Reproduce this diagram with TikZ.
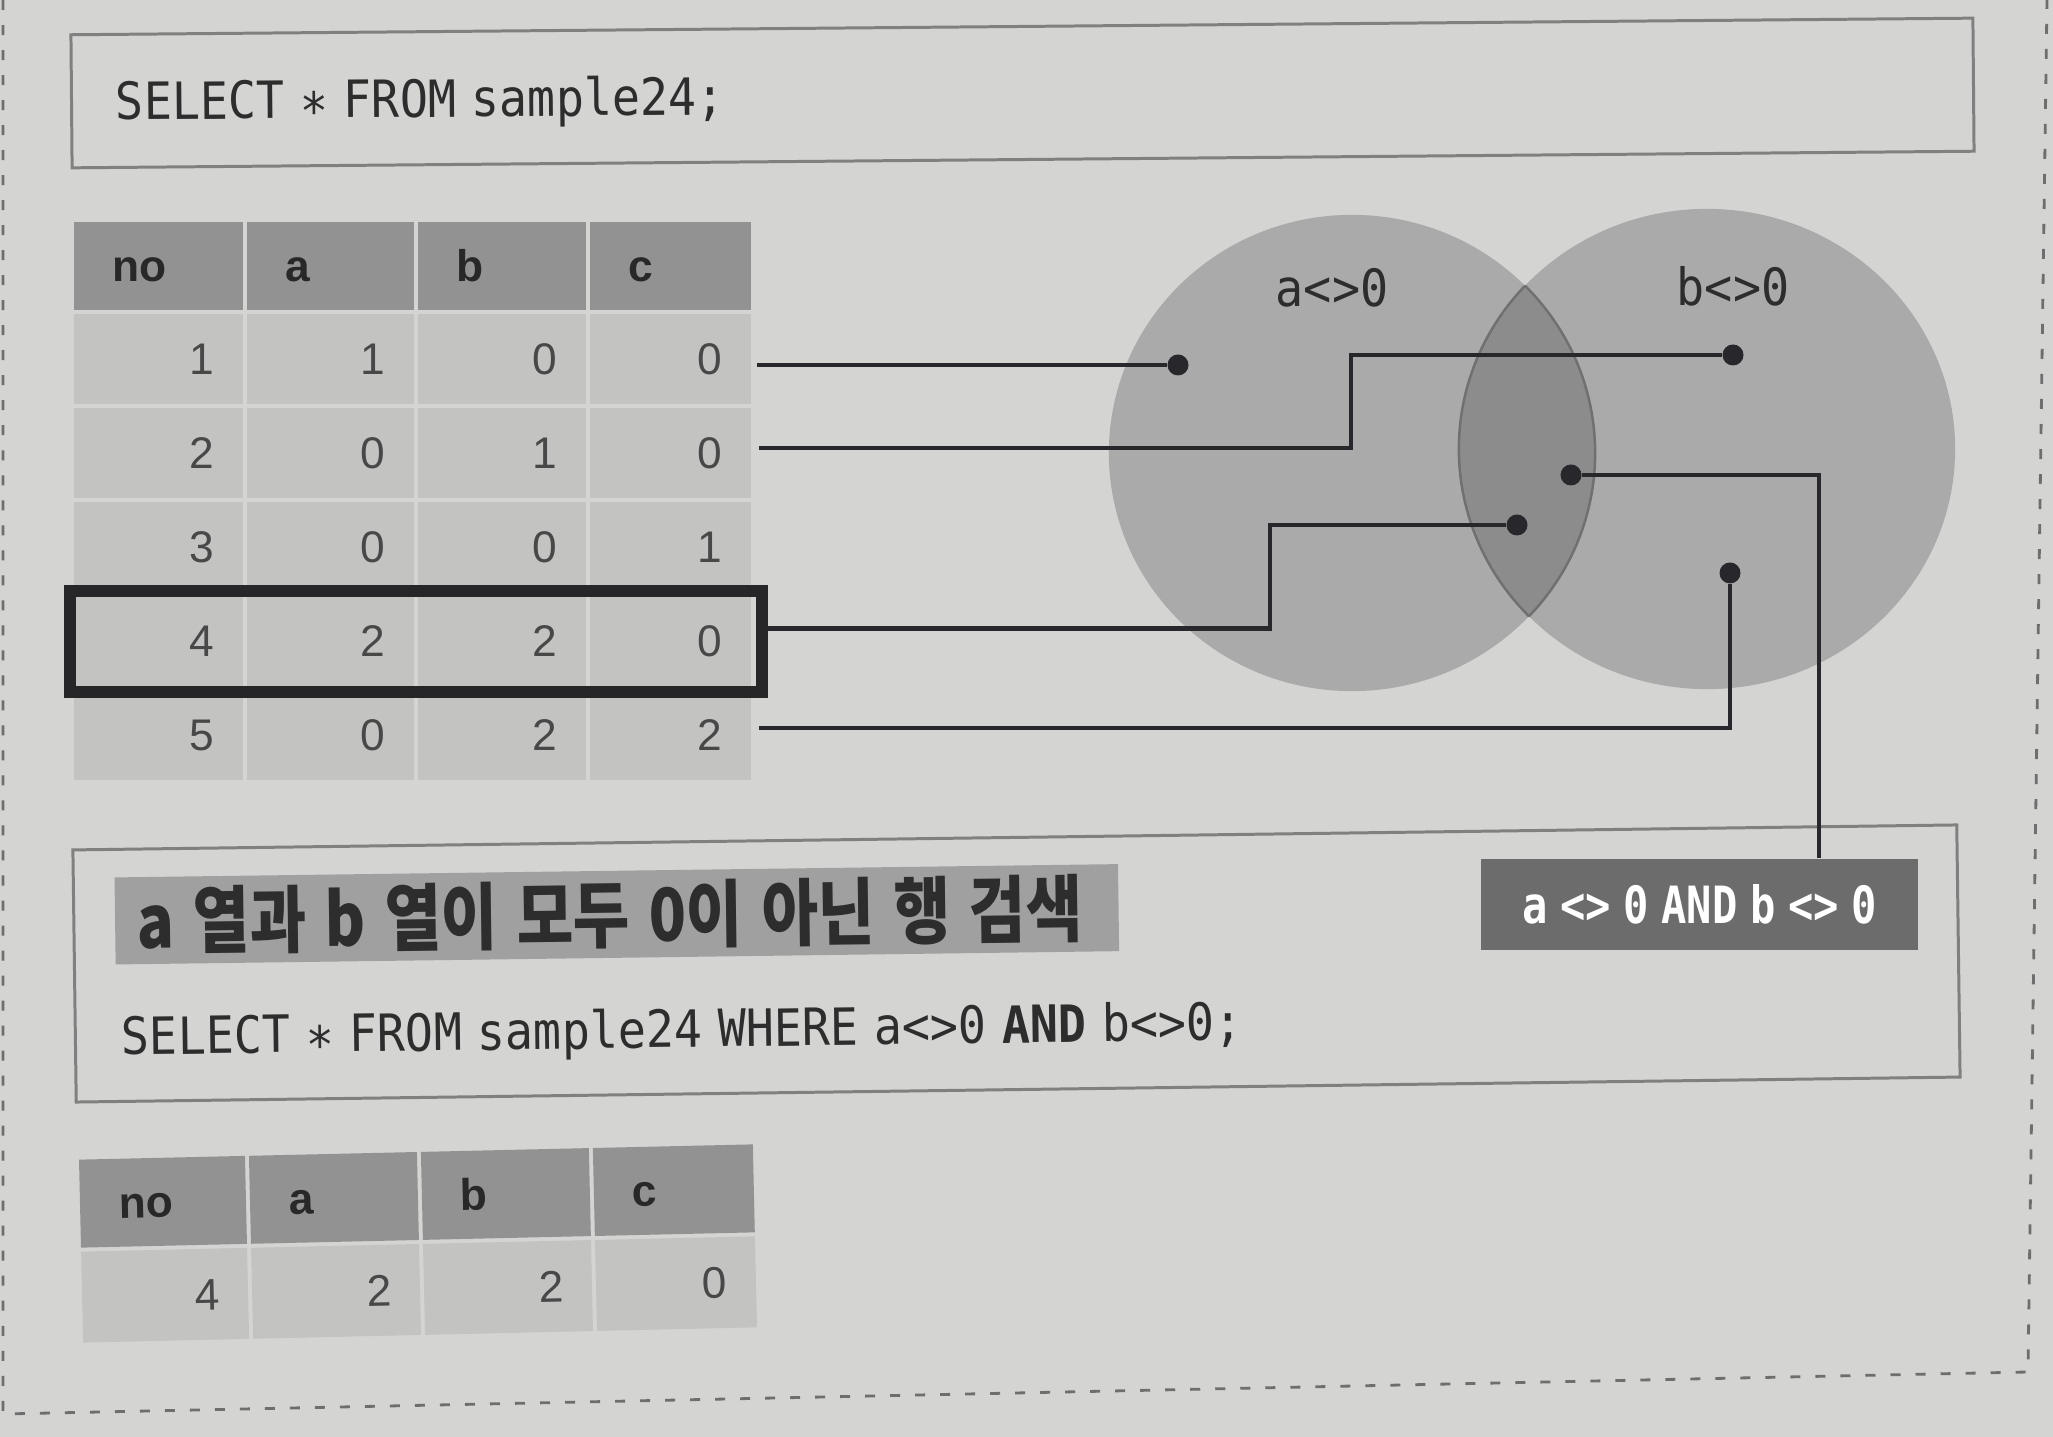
\documentclass[tikz,border=0pt]{standalone}
\usepackage{fontspec}
\usetikzlibrary{calc}
\setmainfont{Liberation Sans}
\newfontfamily\codefont{DejaVu Sans Mono}[FakeStretch=0.91,WordSpace=0.55]
\newfontfamily\labfont{DejaVu Sans Mono}[FakeStretch=0.82,WordSpace=0.5]
\newfontfamily\kofont{Noto Sans CJK KR}[FakeStretch=0.84,WordSpace=1.35]
\newfontfamily\tabfont{Liberation Sans}
\newcommand\midstar{\raisebox{-0.22em}{*}}

\definecolor{bgc}{RGB}{212,212,210}
\definecolor{boxln}{RGB}{128,128,128}
\definecolor{hdr}{RGB}{146,146,146}
\definecolor{cellc}{RGB}{195,195,194}
\definecolor{circ}{RGB}{170,170,170}
\definecolor{lensc}{RGB}{140,140,140}
\definecolor{lensl}{RGB}{112,112,112}
\definecolor{ink}{RGB}{40,40,44}
\definecolor{barc}{RGB}{160,160,160}
\definecolor{labc}{RGB}{108,108,108}
\definecolor{txt}{RGB}{45,45,45}
\definecolor{htxt}{RGB}{40,40,40}
\definecolor{dtxt}{RGB}{72,72,72}
\definecolor{selc}{RGB}{38,38,40}
\definecolor{dashc}{RGB}{110,110,110}

\tikzset{
  boxline/.style={draw=boxln, line width=0.85pt, inner sep=0pt},
  hdrcell/.style={fill=hdr, inner sep=0pt, outer sep=0pt},
  bodycell/.style={fill=cellc, inner sep=0pt, outer sep=0pt},
  hdrtext/.style={inner sep=0pt, font=\tabfont\bfseries\fontsize{12.6pt}{14pt}\selectfont, text=htxt, text height=9pt, text depth=0pt},
  digtext/.style={inner sep=0pt, font=\tabfont\fontsize{12.6pt}{14pt}\selectfont, text=dtxt, text height=9pt, text depth=0pt},
  codetext/.style={inner sep=0pt, font=\codefont\fontsize{14.6pt}{17pt}\selectfont, text=txt},
  kotext/.style={inner sep=0pt, font=\kofont\bfseries\fontsize{20.8pt}{24pt}\selectfont, text=txt},
  conn/.style={draw=ink, line width=1.2pt},
  dotn/.style={circle, fill=ink, inner sep=0pt, minimum size=0.21cm},
  pageframe/.style={draw=dashc, line width=0.8pt, dash pattern=on 0.1cm off 0.15cm},
}

\newcommand\hcell[6]{%
  \node[hdrcell, minimum width={(#4-#2-4)*0.01cm}, minimum height={(#5-#3-4)*0.01cm}] (#1) at ({(#2+#4)/2},{(#3+#5)/2}) {};
  \node[hdrtext, anchor=west] (#1t) at ({#2+40},{(#3+#5)/2}) {#6};}
\newcommand\dcell[6]{%
  \node[bodycell, minimum width={(#4-#2-4)*0.01cm}, minimum height={(#5-#3-4)*0.01cm}] (#1) at ({(#2+#4)/2},{(#3+#5)/2}) {};
  \node[digtext, anchor=east] (#1t) at ({#4-30},{(#3+#5)/2}) {#6};}

\begin{document}
\begin{tikzpicture}[x=0.01cm, y=-0.01cm]
\useasboundingbox (0,0) rectangle (2053,1437);
\fill[bgc] (0,0) rectangle (2053,1437);

% page frame (dashed)
\draw[pageframe] (3,0) -- (3,1414) -- (2028,1372) -- (2047,0);

% top query box
\begin{scope}[rotate around={0.5:(1022.5,93)}, transform shape]
  \node[boxline, minimum width=19.01cm, minimum height=1.33cm] (q1) at (1022.5,93) {};
  \node[codetext, anchor=base west] (q1t) at (115,112) {SELECT \midstar{} FROM sample24;};
\end{scope}

% Venn diagram
\fill[circ] (1352,453) ellipse [x radius=2.43cm, y radius=2.38cm];
\fill[circ] (1707,449) ellipse [x radius=2.48cm, y radius=2.40cm];
\begin{scope}
  \clip (1707,449) ellipse [x radius=2.48cm, y radius=2.40cm];
  \fill[lensc] (1352,453) ellipse [x radius=2.43cm, y radius=2.38cm];
  \draw[lensl, line width=0.7pt] (1352,453) ellipse [x radius=2.43cm, y radius=2.38cm];
\end{scope}
\begin{scope}
  \clip (1352,453) ellipse [x radius=2.43cm, y radius=2.38cm];
  \draw[lensl, line width=0.7pt] (1707,449) ellipse [x radius=2.48cm, y radius=2.40cm];
\end{scope}
\node[codetext, anchor=base] (la) at (1332,307) {a<>0};
\node[codetext, anchor=base] (lb) at (1733,306) {b<>0};

% top table
\hcell{h1}{72}{220}{245}{312}{no}
\hcell{h2}{245}{220}{416}{312}{a}
\hcell{h3}{416}{220}{588}{312}{b}
\hcell{h4}{588}{220}{753}{312}{c}
\dcell{c11}{72}{312}{245}{406}{1}
\dcell{c12}{245}{312}{416}{406}{1}
\dcell{c13}{416}{312}{588}{406}{0}
\dcell{c14}{588}{312}{753}{406}{0}
\dcell{c21}{72}{406}{245}{500}{2}
\dcell{c22}{245}{406}{416}{500}{0}
\dcell{c23}{416}{406}{588}{500}{1}
\dcell{c24}{588}{406}{753}{500}{0}
\dcell{c31}{72}{500}{245}{594}{3}
\dcell{c32}{245}{500}{416}{594}{0}
\dcell{c33}{416}{500}{588}{594}{0}
\dcell{c34}{588}{500}{753}{594}{1}
\dcell{c41}{72}{594}{245}{688}{4}
\dcell{c42}{245}{594}{416}{688}{2}
\dcell{c43}{416}{594}{588}{688}{2}
\dcell{c44}{588}{594}{753}{688}{0}
\dcell{c51}{72}{688}{245}{782}{5}
\dcell{c52}{245}{688}{416}{782}{0}
\dcell{c53}{416}{688}{588}{782}{2}
\dcell{c54}{588}{688}{753}{782}{2}
\node[draw=selc, line width=3.41pt, inner sep=0pt, minimum width=6.92cm, minimum height=1.01cm] (sel) at (416,641.5) {};

% middle box
\begin{scope}[rotate around={0.76:(1016.5,963.5)}, transform shape]
  \node[boxline, minimum width=18.83cm, minimum height=2.52cm] (q2) at (1016.5,963.5) {};
  \node[fill=barc, inner sep=0pt, minimum width=10.03cm, minimum height=0.87cm] (bar) at (617.5,909) {};
  \node[kotext, anchor=base west] (bart) at (137,937) {a 열과 b 열이 모두 0이 아닌 행 검색};
  \node[codetext, anchor=base west] (q2t) at (120,1043) {SELECT \midstar{} FROM sample24 WHERE a<>0 {\bfseries AND} b<>0;};
\end{scope}

% condition label
\node[fill=labc, inner sep=0pt, minimum width=4.37cm, minimum height=0.91cm, text=white,
      font=\labfont\bfseries\fontsize{14.6pt}{17pt}\selectfont] (lab) at (1699.5,904.5) {a <> 0 AND b <> 0};

% dots
\node[dotn] (d1) at (1178,365) {};
\node[dotn] (d2) at (1733,355) {};
\node[dotn] (dI) at (1571,475) {};
\node[dotn] (d4) at (1517,525) {};
\node[dotn] (d5) at (1730,573) {};

% connectors
\draw[conn] ($(c14.east |- d1)+(6,0)$) -- (d1);
\draw[conn] ($(c24.east)+(8,-5)$) -| (1351,355) -- (d2);
\draw[conn] ($(sel.east)+(0,-13)$) -| (1270,525) -- (d4);
\draw[conn] ($(c54.east)+(8,-7)$) -| (d5);
\draw[conn] (dI) -| ($(lab.north west)+(339,0)$);

% result table
\begin{scope}[rotate around={1.3:(418,1244)}, transform shape]
\hcell{bh1}{79}{1150}{249}{1242}{no}
\hcell{bh2}{249}{1150}{421}{1242}{a}
\hcell{bh3}{421}{1150}{593}{1242}{b}
\hcell{bh4}{593}{1150}{757}{1242}{c}
\dcell{b1}{79}{1242}{249}{1337}{4}
\dcell{b2}{249}{1242}{421}{1337}{2}
\dcell{b3}{421}{1242}{593}{1337}{2}
\dcell{b4}{593}{1242}{757}{1337}{0}
\end{scope}
\end{tikzpicture}
\end{document}
